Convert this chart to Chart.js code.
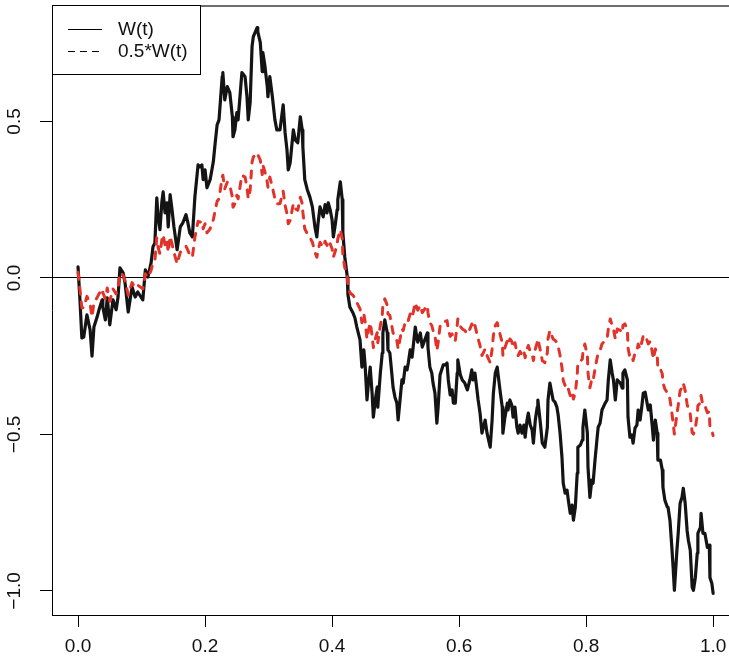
<!DOCTYPE html>
<html>
<head>
<meta charset="utf-8">
<title>W(t)</title>
<script src="https://cdn.jsdelivr.net/npm/chart.js@4.4.1/dist/chart.umd.min.js"></script>
<style>
    html, body { margin: 0; padding: 0; background: #fff; overflow: hidden; }
    canvas { display: block; }
</style>
</head>
<body>
<canvas id="myChart" width="729" height="667"></canvas>
<script>
// time points of the path
const tValues = [
    0.000, 0.003, 0.006, 0.009, 0.014, 0.019, 0.022, 0.025, 0.030, 0.033,
    0.038, 0.039, 0.043, 0.046, 0.050, 0.055, 0.060, 0.063, 0.066, 0.071,
    0.074, 0.079, 0.085, 0.090, 0.094, 0.102, 0.106, 0.110, 0.115, 0.118,
    0.121, 0.124, 0.126, 0.129, 0.132, 0.134, 0.137, 0.140, 0.142, 0.145,
    0.148, 0.151, 0.156, 0.161, 0.165, 0.170, 0.173, 0.176, 0.180, 0.184,
    0.189, 0.192, 0.195, 0.197, 0.200, 0.203, 0.208, 0.213, 0.216, 0.219,
    0.222, 0.227, 0.228, 0.231, 0.235, 0.239, 0.243, 0.244, 0.247, 0.250,
    0.252, 0.255, 0.258, 0.263, 0.266, 0.268, 0.271, 0.274, 0.276, 0.282,
    0.283, 0.287, 0.290, 0.291, 0.294, 0.298, 0.299, 0.302, 0.306, 0.310,
    0.313, 0.318, 0.323, 0.326, 0.329, 0.331, 0.334, 0.339, 0.342, 0.346,
    0.350, 0.353, 0.354, 0.357, 0.361, 0.365, 0.369, 0.373, 0.376, 0.378,
    0.381, 0.386, 0.389, 0.392, 0.394, 0.397, 0.400, 0.402, 0.405, 0.408,
    0.409, 0.413, 0.416, 0.417, 0.420, 0.424, 0.425, 0.428, 0.433, 0.436,
    0.439, 0.444, 0.447, 0.450, 0.452, 0.455, 0.457, 0.460, 0.463, 0.465,
    0.468, 0.471, 0.472, 0.476, 0.479, 0.480, 0.483, 0.487, 0.488, 0.491,
    0.494, 0.496, 0.499, 0.502, 0.504, 0.507, 0.510, 0.512, 0.515, 0.518,
    0.520, 0.523, 0.526, 0.531, 0.534, 0.535, 0.539, 0.542, 0.546, 0.550,
    0.551, 0.554, 0.557, 0.559, 0.562, 0.565, 0.567, 0.570, 0.575, 0.578,
    0.581, 0.583, 0.586, 0.589, 0.591, 0.594, 0.597, 0.598, 0.602, 0.605,
    0.609, 0.613, 0.617, 0.620, 0.622, 0.625, 0.630, 0.633, 0.636, 0.641,
    0.644, 0.649, 0.652, 0.654, 0.657, 0.660, 0.665, 0.668, 0.669, 0.672,
    0.676, 0.677, 0.680, 0.683, 0.685, 0.688, 0.691, 0.693, 0.696, 0.699,
    0.702, 0.704, 0.707, 0.709, 0.712, 0.715, 0.717, 0.720, 0.723, 0.724,
    0.728, 0.731, 0.735, 0.739, 0.740, 0.743, 0.748, 0.751, 0.754, 0.756,
    0.759, 0.762, 0.764, 0.767, 0.770, 0.772, 0.775, 0.778, 0.780, 0.783,
    0.786, 0.787, 0.791, 0.794, 0.795, 0.798, 0.802, 0.803, 0.806, 0.809,
    0.811, 0.814, 0.817, 0.819, 0.822, 0.825, 0.830, 0.833, 0.835, 0.838,
    0.841, 0.843, 0.846, 0.849, 0.854, 0.857, 0.858, 0.861, 0.865, 0.866,
    0.869, 0.872, 0.874, 0.877, 0.880, 0.882, 0.885, 0.888, 0.890, 0.893,
    0.896, 0.898, 0.901, 0.904, 0.906, 0.909, 0.912, 0.913, 0.917, 0.920,
    0.921, 0.924, 0.928, 0.929, 0.932, 0.935, 0.937, 0.939, 0.943, 0.945,
    0.948, 0.951, 0.953, 0.956, 0.959, 0.961, 0.964, 0.967, 0.969, 0.972,
    0.975, 0.976, 0.980, 0.981, 0.984, 0.987, 0.991, 0.994, 0.995, 0.998,
    1.000
];

// W(t), solid black line
const wValues = [
    0.035, -0.070, -0.192, -0.189, -0.118, -0.166, -0.250, -0.157, -0.125, -0.102,
    -0.070, -0.093, -0.134, -0.064, -0.150, -0.070, -0.102, -0.061, 0.032, 0.016,
    -0.016, -0.109, -0.029, -0.061, -0.045, -0.070, 0.026, 0.003, 0.048, 0.099,
    0.112, 0.256, 0.195, 0.154, 0.243, 0.275, 0.208, 0.240, 0.163, 0.266,
    0.218, 0.163, 0.090, 0.163, 0.176, 0.202, 0.176, 0.144, 0.131, 0.259,
    0.361, 0.355, 0.361, 0.314, 0.345, 0.288, 0.314, 0.371, 0.432, 0.489,
    0.505, 0.643, 0.656, 0.569, 0.611, 0.592, 0.515, 0.451, 0.473, 0.528,
    0.505, 0.579, 0.656, 0.643, 0.579, 0.505, 0.560, 0.739, 0.771, 0.800,
    0.787, 0.752, 0.659, 0.720, 0.681, 0.611, 0.579, 0.643, 0.579, 0.505,
    0.473, 0.473, 0.553, 0.464, 0.409, 0.345, 0.368, 0.473, 0.441, 0.432,
    0.515, 0.473, 0.419, 0.314, 0.282, 0.259, 0.227, 0.163, 0.131, 0.176,
    0.227, 0.195, 0.234, 0.208, 0.240, 0.218, 0.186, 0.131, 0.170, 0.218,
    0.250, 0.307, 0.250, 0.144, 0.067, 0.003, -0.054, -0.093, -0.112, -0.128,
    -0.157, -0.198, -0.285, -0.230, -0.278, -0.390, -0.342, -0.285, -0.368, -0.445,
    -0.390, -0.349, -0.413, -0.304, -0.240, -0.176, -0.134, -0.176, -0.230, -0.240,
    -0.304, -0.349, -0.381, -0.400, -0.454, -0.390, -0.326, -0.336, -0.285, -0.294,
    -0.272, -0.230, -0.253, -0.157, -0.198, -0.205, -0.176, -0.221, -0.198, -0.176,
    -0.221, -0.285, -0.304, -0.336, -0.368, -0.464, -0.413, -0.310, -0.278, -0.278,
    -0.272, -0.326, -0.374, -0.358, -0.400, -0.400, -0.304, -0.262, -0.310, -0.326,
    -0.336, -0.358, -0.326, -0.294, -0.326, -0.304, -0.390, -0.432, -0.496, -0.454,
    -0.496, -0.541, -0.454, -0.368, -0.304, -0.285, -0.368, -0.413, -0.496, -0.448,
    -0.400, -0.422, -0.390, -0.406, -0.445, -0.413, -0.477, -0.496, -0.470, -0.496,
    -0.470, -0.509, -0.454, -0.432, -0.470, -0.486, -0.528, -0.454, -0.413, -0.390,
    -0.464, -0.528, -0.541, -0.477, -0.390, -0.336, -0.390, -0.397, -0.413, -0.438,
    -0.496, -0.573, -0.656, -0.688, -0.678, -0.710, -0.752, -0.726, -0.774, -0.733,
    -0.624, -0.541, -0.534, -0.518, -0.477, -0.422, -0.496, -0.605, -0.701, -0.646,
    -0.656, -0.582, -0.518, -0.477, -0.464, -0.422, -0.400, -0.390, -0.326, -0.262,
    -0.304, -0.326, -0.390, -0.326, -0.336, -0.352, -0.304, -0.294, -0.326, -0.445,
    -0.509, -0.502, -0.528, -0.480, -0.470, -0.422, -0.454, -0.406, -0.368, -0.365,
    -0.400, -0.422, -0.406, -0.470, -0.518, -0.454, -0.496, -0.582, -0.582, -0.614,
    -0.669, -0.710, -0.733, -0.733, -0.774, -0.861, -0.925, -0.998, -0.870, -0.816,
    -0.720, -0.701, -0.672, -0.720, -0.806, -0.838, -0.870, -0.988, -0.998, -0.957,
    -0.880, -0.816, -0.797, -0.752, -0.816, -0.816, -0.861, -0.854, -0.957, -0.976,
    -1.008
];

// 0.5*W(t), red dashed line
const halfWValues = [
    0.018, -0.035, -0.096, -0.095, -0.059, -0.083, -0.125, -0.079, -0.063, -0.051,
    -0.035, -0.047, -0.067, -0.032, -0.075, -0.035, -0.051, -0.031, 0.016, 0.008,
    -0.008, -0.055, -0.015, -0.031, -0.023, -0.035, 0.013, 0.002, 0.024, 0.050,
    0.056, 0.128, 0.098, 0.077, 0.122, 0.138, 0.104, 0.120, 0.082, 0.133,
    0.109, 0.082, 0.045, 0.082, 0.088, 0.101, 0.088, 0.072, 0.066, 0.130,
    0.181, 0.178, 0.181, 0.157, 0.173, 0.144, 0.157, 0.186, 0.216, 0.245,
    0.253, 0.322, 0.328, 0.285, 0.306, 0.296, 0.258, 0.226, 0.237, 0.264,
    0.253, 0.290, 0.328, 0.322, 0.290, 0.253, 0.280, 0.370, 0.386, 0.400,
    0.394, 0.376, 0.330, 0.360, 0.341, 0.306, 0.290, 0.322, 0.290, 0.253,
    0.237, 0.237, 0.277, 0.232, 0.205, 0.173, 0.184, 0.237, 0.221, 0.216,
    0.258, 0.237, 0.210, 0.157, 0.141, 0.130, 0.114, 0.082, 0.066, 0.088,
    0.114, 0.098, 0.117, 0.104, 0.120, 0.109, 0.093, 0.066, 0.085, 0.109,
    0.125, 0.154, 0.125, 0.072, 0.034, 0.002, -0.027, -0.047, -0.056, -0.064,
    -0.079, -0.099, -0.143, -0.115, -0.139, -0.195, -0.171, -0.143, -0.184, -0.223,
    -0.195, -0.175, -0.207, -0.152, -0.120, -0.088, -0.067, -0.088, -0.115, -0.120,
    -0.152, -0.175, -0.191, -0.200, -0.227, -0.195, -0.163, -0.168, -0.143, -0.147,
    -0.136, -0.115, -0.127, -0.079, -0.099, -0.103, -0.088, -0.111, -0.099, -0.088,
    -0.111, -0.143, -0.152, -0.168, -0.184, -0.232, -0.207, -0.155, -0.139, -0.139,
    -0.136, -0.163, -0.187, -0.179, -0.200, -0.200, -0.152, -0.131, -0.155, -0.163,
    -0.168, -0.179, -0.163, -0.147, -0.163, -0.152, -0.195, -0.216, -0.248, -0.227,
    -0.248, -0.271, -0.227, -0.184, -0.152, -0.143, -0.184, -0.207, -0.248, -0.224,
    -0.200, -0.211, -0.195, -0.203, -0.223, -0.207, -0.239, -0.248, -0.235, -0.248,
    -0.235, -0.255, -0.227, -0.216, -0.235, -0.243, -0.264, -0.227, -0.207, -0.195,
    -0.232, -0.264, -0.271, -0.239, -0.195, -0.168, -0.195, -0.199, -0.207, -0.219,
    -0.248, -0.287, -0.328, -0.344, -0.339, -0.355, -0.376, -0.363, -0.387, -0.367,
    -0.312, -0.271, -0.267, -0.259, -0.239, -0.211, -0.248, -0.303, -0.351, -0.323,
    -0.328, -0.291, -0.259, -0.239, -0.232, -0.211, -0.200, -0.195, -0.163, -0.131,
    -0.152, -0.163, -0.195, -0.163, -0.168, -0.176, -0.152, -0.147, -0.163, -0.223,
    -0.255, -0.251, -0.264, -0.240, -0.235, -0.211, -0.227, -0.203, -0.184, -0.183,
    -0.200, -0.211, -0.203, -0.235, -0.259, -0.227, -0.248, -0.291, -0.291, -0.307,
    -0.335, -0.355, -0.367, -0.367, -0.387, -0.431, -0.463, -0.499, -0.435, -0.408,
    -0.360, -0.351, -0.336, -0.360, -0.403, -0.419, -0.435, -0.494, -0.499, -0.479,
    -0.440, -0.408, -0.399, -0.376, -0.408, -0.408, -0.431, -0.427, -0.479, -0.488,
    -0.504
];

const xTicks = [0, 0.2, 0.4, 0.6, 0.8, 1.0];
const yTicks = [-1.0, -0.5, 0, 0.5];
const seriesNames = ['W(t)', '0.5*W(t)'];

const FONT = "'Liberation Sans', Arial, Helvetica, sans-serif";

function toPoints(ys) {
    return tValues.map((t, i) => ({ x: t, y: ys[i] }));
}

function fmt(v) {
    return v.toFixed(1).replace('-', '\u2212');
}

// box top edge + R-style legend in the top-left corner
const boxAndLegend = {
    id: 'boxAndLegend',
    afterDraw(chart) {
        const ctx = chart.ctx;
        const area = chart.chartArea;
        ctx.save();
        ctx.strokeStyle = '#6e6e6e';
        ctx.lineWidth = 2;
        ctx.beginPath();
        ctx.moveTo(area.left, area.top + 1);
        ctx.lineTo(area.right, area.top + 1);
        ctx.stroke();

        ctx.fillStyle = '#fff';
        ctx.fillRect(area.left, area.top, 148, 69);
        ctx.strokeStyle = '#000';
        ctx.lineWidth = 1;
        ctx.strokeRect(area.left + 0.5, area.top + 0.5, 148, 69);

        ctx.beginPath();
        ctx.moveTo(area.left + 16, area.top + 24.5);
        ctx.lineTo(area.left + 50, area.top + 24.5);
        ctx.stroke();
        ctx.setLineDash([7, 5]);
        ctx.beginPath();
        ctx.moveTo(area.left + 16, area.top + 46.5);
        ctx.lineTo(area.left + 50, area.top + 46.5);
        ctx.stroke();
        ctx.setLineDash([]);

        ctx.fillStyle = '#111';
        ctx.font = '19px ' + FONT;
        ctx.textBaseline = 'middle';
        ctx.textAlign = 'left';
        ctx.fillText(seriesNames[0], area.left + 66, area.top + 25);
        ctx.fillText(seriesNames[1], area.left + 66, area.top + 47);
        ctx.restore();
    }
};

new Chart(document.getElementById('myChart').getContext('2d'), {
    type: 'line',
    data: {
        datasets: [{
            label: seriesNames[0],
            data: toPoints(wValues),
            borderColor: '#141414',
            borderWidth: 3.2,
            borderJoinStyle: 'round',
            borderCapStyle: 'round',
            pointRadius: 0,
            tension: 0,
            fill: false,
            order: 2
        }, {
            label: seriesNames[1],
            data: toPoints(halfWValues),
            borderColor: '#e2332b',
            borderWidth: 3,
            borderDash: [7, 8],
            borderJoinStyle: 'round',
            borderCapStyle: 'round',
            pointRadius: 0,
            tension: 0,
            fill: false,
            order: 1
        }]
    },
    options: {
        responsive: false,
        animation: false,
        events: [],
        layout: { padding: { top: 5, right: 0, left: 0, bottom: 0 } },
        plugins: {
            legend: { display: false },
            tooltip: { enabled: false }
        },
        scales: {
            x: {
                type: 'linear',
                min: -0.041,
                max: 1.025,
                afterBuildTicks: scale => { scale.ticks = xTicks.map(v => ({ value: v })); },
                afterFit: scale => {
                    scale.height = 52;
                    scale.paddingLeft = 0;
                    scale.paddingRight = 0;
                },
                ticks: {
                    autoSkip: false,
                    maxRotation: 0,
                    padding: 8,
                    color: '#111',
                    font: { family: FONT, size: 19 },
                    callback: v => fmt(v)
                },
                grid: {
                    drawOnChartArea: false,
                    drawTicks: true,
                    tickLength: 12,
                    tickColor: '#000',
                    tickWidth: 1
                },
                border: { display: true, color: '#000', width: 1 }
            },
            y: {
                type: 'linear',
                min: -1.077,
                max: 0.872,
                afterBuildTicks: scale => { scale.ticks = yTicks.map(v => ({ value: v })); },
                afterFit: scale => {
                    scale.width = 52;
                    scale.paddingTop = 0;
                    scale.paddingBottom = 0;
                },
                ticks: {
                    autoSkip: false,
                    minRotation: 90,
                    maxRotation: 90,
                    crossAlign: 'center',
                    padding: 6,
                    color: '#111',
                    font: { family: FONT, size: 19 },
                    callback: v => fmt(v)
                },
                grid: {
                    drawOnChartArea: true,
                    drawTicks: true,
                    tickLength: 12,
                    color: c => (c.tick && c.tick.value === 0) ? '#000' : 'rgba(0,0,0,0)',
                    tickColor: '#000',
                    lineWidth: 1
                },
                border: { display: true, color: '#000', width: 1 }
            }
        }
    },
    plugins: [boxAndLegend]
});
</script>
</body>
</html>
